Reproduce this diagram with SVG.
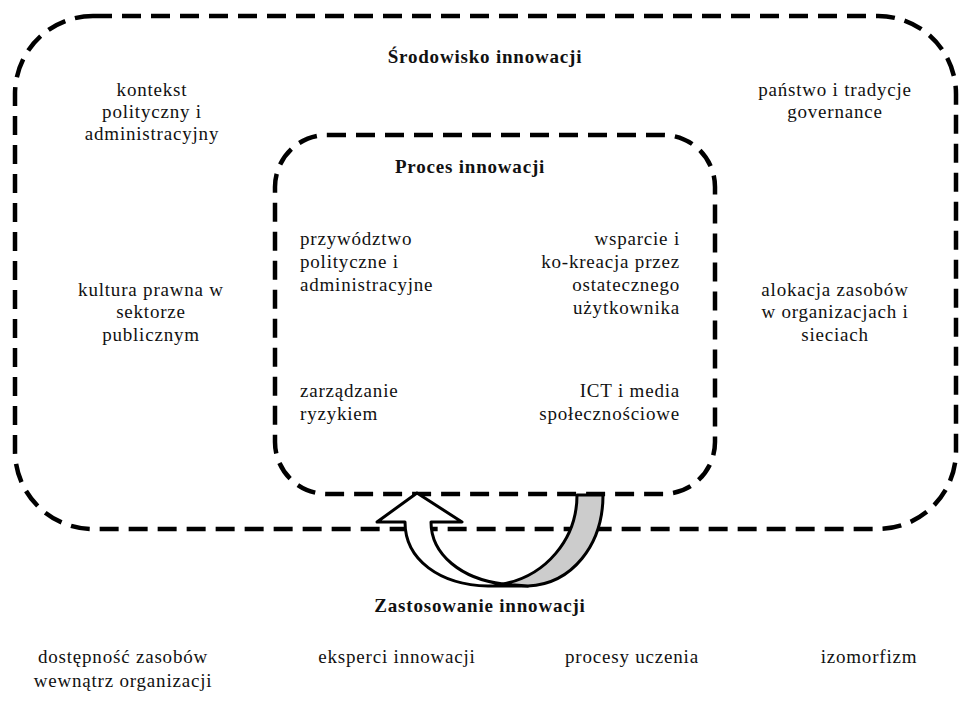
<svg xmlns="http://www.w3.org/2000/svg" width="960" height="714" viewBox="0 0 960 714">
<style>
.t{font-family:"Liberation Serif","Times New Roman",serif;font-size:19px;fill:#111;letter-spacing:0.8px}
.b{font-weight:bold}
.m{text-anchor:middle}
.e{text-anchor:end}
.box{fill:none;stroke:#000;stroke-width:4.5;stroke-dasharray:19 10}
.arr{stroke:#000;stroke-width:3;stroke-linejoin:round}
</style>
<rect width="960" height="714" fill="#fff"/>
<g id="env">
<rect class="box" x="15" y="16" width="941" height="513" rx="78" ry="78"/>
<text class="t b m" x="485" y="63">Środowisko innowacji</text>
</g>
<g id="env-kontekst">
<text class="t m" x="152" y="96">kontekst</text>
<text class="t m" x="152" y="118">polityczny i</text>
<text class="t m" x="152" y="140">administracyjny</text>
</g>
<g id="env-panstwo">
<text class="t m" x="835" y="96">państwo i tradycje</text>
<text class="t m" x="835" y="118">governance</text>
</g>
<g id="env-kultura">
<text class="t m" x="151" y="296">kultura prawna w</text>
<text class="t m" x="151" y="318">sektorze</text>
<text class="t m" x="151" y="341">publicznym</text>
</g>
<g id="env-alokacja">
<text class="t m" x="835" y="296">alokacja zasobów</text>
<text class="t m" x="835" y="318">w organizacjach i</text>
<text class="t m" x="835" y="341">sieciach</text>
</g>
<g id="proc">
<rect class="box" x="275" y="135" width="440" height="359" rx="52" ry="52"/>
<text class="t b m" x="470" y="173">Proces innowacji</text>
</g>
<g id="proc-przywodztwo">
<text class="t" x="300" y="245">przywództwo</text>
<text class="t" x="300" y="268">polityczne i</text>
<text class="t" x="300" y="291">administracyjne</text>
</g>
<g id="proc-wsparcie">
<text class="t e" x="680" y="245">wsparcie i</text>
<text class="t e" x="680" y="268">ko-kreacja przez</text>
<text class="t e" x="680" y="291">ostatecznego</text>
<text class="t e" x="680" y="314">użytkownika</text>
</g>
<g id="proc-ryzyko">
<text class="t" x="300" y="397">zarządzanie</text>
<text class="t" x="300" y="420">ryzykiem</text>
</g>
<g id="proc-ict">
<text class="t e" x="680" y="397">ICT i media</text>
<text class="t e" x="680" y="420">społecznościowe</text>
</g>
<g id="connectors">
<path class="arr" fill="#fff" d="M377,522 L417,493 L462,522 L431,522 C431,555 462,579 503,584 L528,586 L488,586 C440,585 405,560 405,522 Z"/>
<path class="arr" fill="#ccc" d="M577,495 L603,495 C603,545 572,584 528,586 L503,584 C545,576 577,540 577,495 Z"/>
</g>
<g id="app">
<text class="t b m" x="480" y="612">Zastosowanie innowacji</text>
</g>
<g id="app-dostepnosc">
<text class="t m" x="123" y="663">dostępność zasobów</text>
<text class="t m" x="123" y="687">wewnątrz organizacji</text>
</g>
<g id="app-eksperci"><text class="t m" x="397" y="663">eksperci innowacji</text></g>
<g id="app-procesy"><text class="t m" x="632" y="663">procesy uczenia</text></g>
<g id="app-izomorfizm"><text class="t m" x="869" y="663">izomorfizm</text></g>
</svg>
